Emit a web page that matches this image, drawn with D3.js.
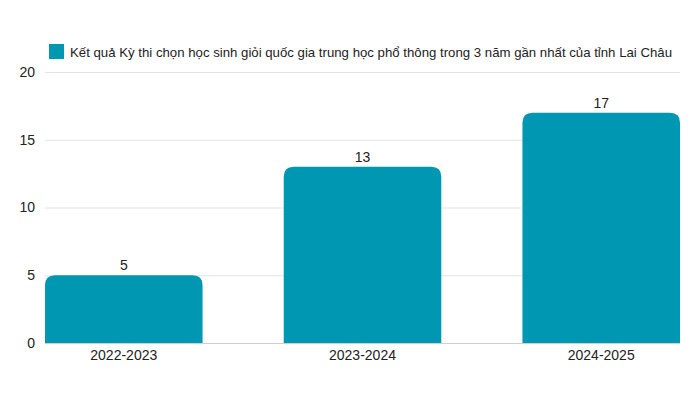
<!DOCTYPE html>
<html>
<head>
<meta charset="utf-8">
<script src="https://cdn.jsdelivr.net/npm/d3@7"></script>
<style>
  body { margin: 0; background: #fff; }
  svg { font-family: "Liberation Sans", Arial, sans-serif; }
</style>
</head>
<body>
<svg></svg>
<script>
var WIDTH = 700;
var HEIGHT = 394;

var years = ['2022-2023', '2023-2024', '2024-2025'];
var counts = [5, 13, 17];
var yTicks = [0, 5, 10, 15, 20];
var seriesName = 'Kết quả Kỳ thi chọn học sinh giỏi quốc gia trung học phổ thông trong 3 năm gần nhất của tỉnh Lai Châu';

var COLOR = '#0097b2';

var svg = d3.select('svg')
  .attr('width', WIDTH)
  .attr('height', HEIGHT);

var xScale = d3.scaleBand()
  .domain(years)
  .range([45, 680])
  .paddingInner(0.34)
  .paddingOuter(0);

var yScale = d3.scaleLinear()
  .domain([0, 20])
  .range([343, 72]);

// grid
svg.append('g').selectAll('line')
  .data(yTicks)
  .enter()
  .append('line')
  .attr('x1', 45)
  .attr('x2', 680)
  .attr('y1', function(d){ return yScale(d) + 0.5; })
  .attr('y2', function(d){ return yScale(d) + 0.5; })
  .attr('stroke', function(d){ return d === 0 ? '#cfcfcf' : '#e3e3e3'; })
  .attr('stroke-width', 1);

// y axis labels
svg.append('g').selectAll('text')
  .data(yTicks)
  .enter()
  .append('text')
  .attr('x', 35)
  .attr('y', function(d){ return yScale(d); })
  .attr('dy', '0.35em')
  .attr('text-anchor', 'end')
  .attr('font-size', 14)
  .attr('fill', '#222')
  .text(function(d){ return d; });

// bars with rounded top
var r = 10;
svg.append('g').selectAll('path')
  .data(counts)
  .enter()
  .append('path')
  .attr('fill', COLOR)
  .attr('d', function(d, i){
    var x0 = xScale(years[i]);
    var w = xScale.bandwidth();
    var y0 = yScale(d);
    var yb = yScale(0);
    return 'M' + x0 + ',' + yb +
      'L' + x0 + ',' + (y0 + r) +
      'Q' + x0 + ',' + y0 + ' ' + (x0 + r) + ',' + y0 +
      'L' + (x0 + w - r) + ',' + y0 +
      'Q' + (x0 + w) + ',' + y0 + ' ' + (x0 + w) + ',' + (y0 + r) +
      'L' + (x0 + w) + ',' + yb + 'Z';
  });

// value labels
svg.append('g').selectAll('text')
  .data(counts)
  .enter()
  .append('text')
  .attr('x', function(d, i){ return xScale(years[i]) + xScale.bandwidth() / 2; })
  .attr('y', function(d){ return yScale(d) - 5; })
  .attr('text-anchor', 'middle')
  .attr('font-size', 14)
  .attr('fill', '#222')
  .text(function(d){ return d; });

// x labels
svg.append('g').selectAll('text')
  .data(years)
  .enter()
  .append('text')
  .attr('x', function(d){ return xScale(d) + xScale.bandwidth() / 2; })
  .attr('y', 360)
  .attr('text-anchor', 'middle')
  .attr('font-size', 14)
  .attr('fill', '#222')
  .text(function(d){ return d; });

// legend
var legend = svg.append('g');
legend.append('rect')
  .attr('x', 49)
  .attr('y', 44)
  .attr('width', 15)
  .attr('height', 15)
  .attr('fill', COLOR);
legend.append('text')
  .attr('x', 70)
  .attr('y', 57)
  .attr('font-size', 13.5)
  .attr('textLength', 602)
  .attr('lengthAdjust', 'spacingAndGlyphs')
  .attr('fill', '#222')
  .text(seriesName);
</script>
</body>
</html>
